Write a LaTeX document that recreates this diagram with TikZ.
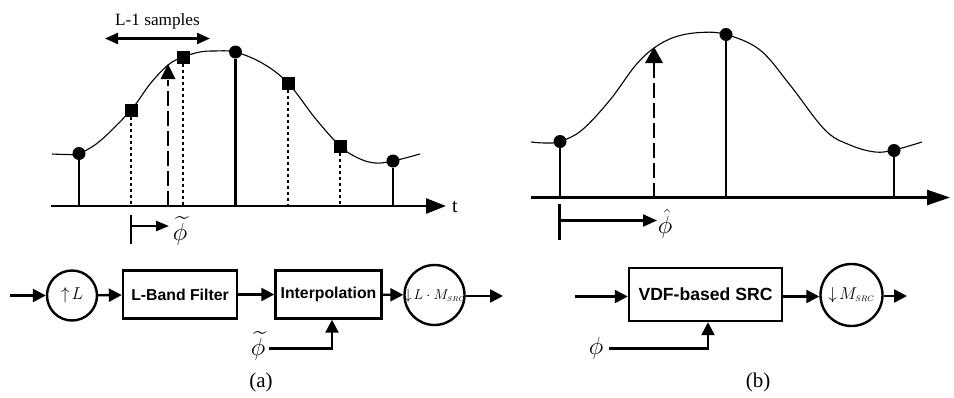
\documentclass[tikz,border=0pt]{standalone}
\usepackage{amsmath}
\usepackage{fontspec}
\setmainfont{Liberation Serif}
\newfontfamily\boxfont{Liberation Sans}[BoldFont={Liberation Sans Bold}]
\usetikzlibrary{arrows.meta}
\tikzset{
  x=1pt,y=-1pt,
  wire/.style={line width=2.4pt,-{Triangle[length=13pt,width=13pt]}},
  axisw/.style={line width=2.5pt,-{Triangle[length=20pt,width=15pt]}},
  curve/.style={line width=1.1pt,smooth,tension=0.6},
  stem/.style={line width=2.4pt},
  dotted stem/.style={line width=2.3pt,dash pattern=on 3.6pt off 2.4pt},
  long dash/.style={line width=2.4pt,dash pattern=on 15pt off 5pt},
  blk/.style={draw,line width=2.4pt,minimum height=48pt,inner sep=0pt,font=\boxfont\bfseries\fontsize{15.8}{18}\selectfont},
  sum/.style={draw,circle,line width=2.4pt,inner sep=0pt},
  dot/.style={circle,fill=black,minimum size=13pt,inner sep=0pt},
  sq/.style={rectangle,fill=black,minimum size=13pt,inner sep=0pt},
  lab/.style={font=\fontsize{21}{24}\selectfont,inner sep=0pt},
  symb/.style={font=\fontsize{25}{28}\selectfont,inner sep=0pt},
}
\begin{document}
\begin{tikzpicture}
\useasboundingbox (0,0) rectangle (954,397);
%% ---------- (a) plot
\coordinate (axLs) at (51,206);
\coordinate (axLe) at (446,206);
\draw[axisw] (axLs) -- (axLe);
\node[lab,font=\fontsize{20}{22}\selectfont] (tlab) at (455,207) {t};
\draw[curve] plot coordinates {(52,154) (68,154.5) (79,153.5) (100,141) (131,110) (150,84) (168,65) (183,57) (200,52) (215,51) (235,52) (262,63) (288,83) (315,118) (340,146) (358,158) (375,163) (393,161) (420,154)};
\node[dot] (a1) at (79,153.5) {};
\node[sq] (as1) at (131,110) {};
\node[sq] (as2) at (183,57) {};
\node[dot] (a2) at (235.5,52) {};
\node[sq] (as3) at (288,83) {};
\node[sq] (as4) at (340,146) {};
\node[dot] (a3) at (393,161) {};
\foreach \n in {a1,a2,a3} \draw[stem] (\n) -- (\n |- axLs);
\foreach \n in {as1,as2,as3,as4} \draw[dotted stem] (\n) -- (\n |- axLs);
\coordinate (atip) at (168,64);
\draw[long dash] (atip |- axLs) -- (168,80);
\fill (atip) -- (175.5,79) -- (160.5,79) -- cycle;
\coordinate (lsL) at (105,38.5);
\coordinate (lsR) at (210,38.5);
\draw[line width=2.2pt,{Triangle[length=13pt,width=11pt]}-{Triangle[length=13pt,width=11pt]}] (lsL) -- (lsR);
\node[lab,font=\fontsize{17.2}{19}\selectfont] (lsamples) at (157.5,21) {L-1 samples};
\coordinate (brT) at (131,215);
\coordinate (brB) at (131,244);
\draw[line width=2.4pt] (brT) -- (brB);
\coordinate (brE) at (169,226);
\draw[line width=2.2pt,-{Triangle[length=13pt,width=10pt]}] (brT |- brE) -- (brE);
\node[symb] (phit1) at (180,231) {$\widetilde{\phi}$};
%% ---------- (a) blocks
\coordinate (inA) at (10,295.5);
\node[sum,minimum size=50pt] (up) at (72,295.5) {\fontsize{19}{21}\selectfont$\uparrow\!L$};
\node[blk,minimum width=114pt] (lband) at (180,294.5) {L-Band Filter};
\node[blk,minimum width=106pt] (interp) at (328.5,294.5) {Interpolation};
\node[sum,minimum size=60pt] (down) at (434.5,295) {};
\node[inner sep=0pt] (downlab) at (435,295.5) {\fontsize{15}{17}\selectfont$\downarrow\!L\cdot M_{\scriptscriptstyle SRC}$};
\coordinate (outA) at (503,296);
\node[symb] (phit2) at (258,346) {$\widetilde{\phi}$};
\draw[wire] (inA) -- (up);
\draw[wire] (up) -- (lband);
\draw[wire] (lband) -- (interp);
\draw[wire] (interp) -- (down);
\draw[wire] (down.east |- outA) -- (outA);
\draw[wire] (269,348.5) -| (interp.south -| 332,0);
%% ---------- (b) plot
\coordinate (axRs) at (531,197.5);
\coordinate (axRe) at (950,197.5);
\draw[axisw,-{Triangle[length=23pt,width=15pt]}] (axRs) -- (axRe);
\draw[curve] plot coordinates {(531,142) (545,143) (560,141.5) (582,130) (610,100) (635,66) (654,48) (675,37) (700,32.5) (726,34.5) (760,50) (790,85) (825,130) (850,145) (875,152) (894,150) (922,142)};
\node[dot] (b1) at (560,141.5) {};
\node[dot] (b2) at (726,34.5) {};
\node[dot] (b3) at (894,150.5) {};
\foreach \n in {b1,b2,b3} \draw[stem] (\n) -- (\n |- axRs);
\coordinate (btip) at (654,47);
\draw[long dash] (btip |- axRs) -- (654,62);
\fill (btip) -- (663,63) -- (645,63) -- cycle;
\coordinate (brT2) at (559.5,204);
\coordinate (brB2) at (559.5,240);
\draw[line width=2.4pt] (brT2) -- (brB2);
\coordinate (brE2) at (657,220.5);
\draw[line width=2.2pt,-{Triangle[length=14pt,width=12pt]}] (brT2 |- brE2) -- (brE2);
\node[symb] (phih) at (665,224) {$\hat{\phi}$};
%% ---------- (b) blocks
\coordinate (inB) at (575,296.5);
\node[blk,minimum width=153pt,minimum height=53pt,font=\boxfont\bfseries\fontsize{17.6}{20}\selectfont] (vdf) at (705.5,294.5) {VDF-based SRC};
\node[sum,minimum size=62pt] (mdown) at (851.5,295) {\fontsize{16}{18}\selectfont$\downarrow\!M_{\scriptscriptstyle SRC}$};
\coordinate (outB) at (907,296);
\node[symb] (phib) at (596,348) {$\phi$};
\draw[wire] (inB) -- (vdf.west |- inB);
\draw[wire] (vdf.east |- 0,296.5) -- (mdown.west |- 0,296.5);
\draw[wire] (mdown.east |- outB) -- (outB);
\draw[wire] (609,348.5) -| (vdf.south -| 708,0);
%% ---------- captions
\node[lab] (capa) at (261,382) {(a)};
\node[lab] (capb) at (758,382) {(b)};
\end{tikzpicture}
\end{document}
